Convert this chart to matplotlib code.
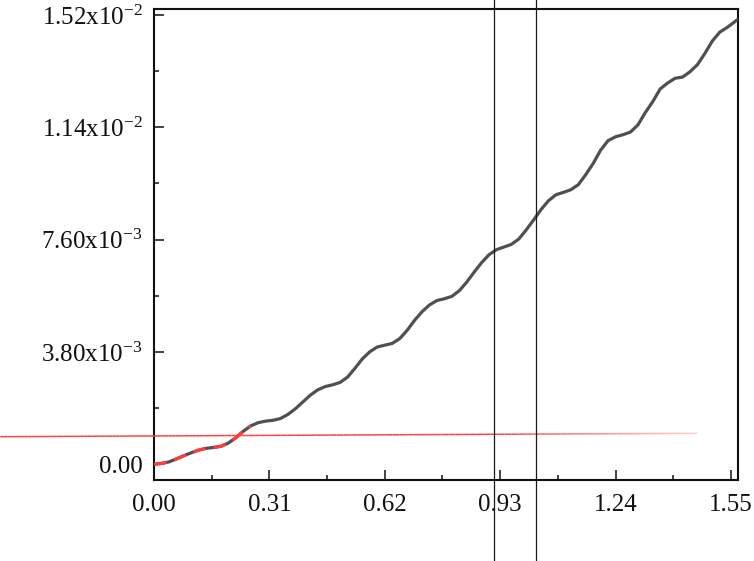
import numpy as np
import matplotlib
matplotlib.use("Agg")
import matplotlib.pyplot as plt
from matplotlib.collections import LineCollection
from matplotlib.ticker import FixedLocator, MultipleLocator

plt.rcParams['font.family'] = ['Liberation Serif', 'DejaVu Serif']
plt.rcParams['mathtext.fontset'] = 'custom'
plt.rcParams['mathtext.rm'] = 'Liberation Serif'
plt.rcParams['mathtext.it'] = 'Liberation Serif'

# curve
x_vals = [0.0, 0.02, 0.04, 0.06, 0.08, 0.10, 0.12, 0.14, 0.16, 0.18,
          0.20, 0.22, 0.24, 0.26, 0.28, 0.30, 0.32, 0.34, 0.36, 0.38,
          0.40, 0.42, 0.44, 0.46, 0.48, 0.50, 0.52, 0.54, 0.56, 0.58,
          0.60, 0.62, 0.64, 0.66, 0.68, 0.70, 0.72, 0.74, 0.76, 0.78,
          0.80, 0.82, 0.84, 0.86, 0.88, 0.90, 0.92, 0.94, 0.96, 0.98,
          1.00, 1.02, 1.04, 1.06, 1.08, 1.10, 1.12, 1.14, 1.16, 1.18,
          1.20, 1.22, 1.24, 1.26, 1.28, 1.30, 1.32, 1.34, 1.36, 1.38,
          1.40, 1.42, 1.44, 1.46, 1.48, 1.50, 1.52, 1.54, 1.56, 1.568]
y_vals = [0.0, 0.3e-4, 0.8e-4, 1.8e-4, 2.9e-4, 3.9e-4, 4.8e-4, 5.4e-4, 5.7e-4, 6.1e-4,
          7.2e-4, 9.0e-4, 1.12e-3, 1.30e-3, 1.41e-3, 1.46e-3, 1.49e-3, 1.55e-3, 1.69e-3, 1.88e-3,
          2.11e-3, 2.34e-3, 2.52e-3, 2.63e-3, 2.69e-3, 2.77e-3, 2.95e-3, 3.25e-3, 3.57e-3, 3.81e-3,
          3.97e-3, 4.03e-3, 4.09e-3, 4.25e-3, 4.53e-3, 4.87e-3, 5.16e-3, 5.39e-3, 5.54e-3, 5.60e-3,
          5.68e-3, 5.87e-3, 6.16e-3, 6.50e-3, 6.82e-3, 7.09e-3, 7.26e-3, 7.35e-3, 7.44e-3, 7.62e-3,
          7.93e-3, 8.27e-3, 8.62e-3, 8.92e-3, 9.12e-3, 9.20e-3, 9.29e-3, 9.46e-3, 9.80e-3, 1.018e-2,
          1.063e-2, 1.095e-2, 1.108e-2, 1.115e-2, 1.124e-2, 1.148e-2, 1.190e-2, 1.227e-2, 1.270e-2, 1.290e-2,
          1.306e-2, 1.310e-2, 1.328e-2, 1.352e-2, 1.390e-2, 1.432e-2, 1.462e-2, 1.478e-2, 1.497e-2, 1.505e-2]
red_until = 0.26

# red reference line and the two markers
ref_x = [-0.413, 1.459]
ref_y = [9.34e-4, 1.049e-3]
vlines_x = [0.9126, 1.0255]

x_ticks = [0.0, 0.31, 0.62, 0.93, 1.24, 1.55]
x_labels = ['0.00', '0.31', '0.62', '0.93', '1.24', '1.55']
y_ticks = [0.0, 3.8e-3, 7.6e-3, 1.14e-2, 1.52e-2]
y_labels = ['0.00', r'3.80x10$^{\mathregular{-3}}$', r'7.60x10$^{\mathregular{-3}}$',
            r'1.14x10$^{\mathregular{-2}}$', r'1.52x10$^{\mathregular{-2}}$']

fig = plt.figure(figsize=(7.54, 5.61), dpi=100)
ax = fig.add_axes([154 / 754, 81 / 561, 584 / 754, 470.7 / 561])

x = np.array(x_vals)
y = np.array(y_vals)
ax.plot(x, y, color='#505050', lw=2.3, zorder=3, solid_capstyle='round', solid_joinstyle='round')
m = x <= red_until
ax.plot(x[m], y[m], color='#ff3b3b', lw=2.3, dashes=(4, 2.5), zorder=4)

# red line fading out to the right
n = 200
rx = np.linspace(ref_x[0], ref_x[1], n)
ry = np.interp(rx, ref_x, ref_y)
pts = np.array([rx, ry]).T.reshape(-1, 1, 2)
segs = np.concatenate([pts[:-1], pts[1:]], axis=1)
alpha = np.clip(1 - (rx[:-1] - 0.9) / (ref_x[1] - 0.9) * 0.75, 0.25, 1.0)
cols = np.zeros((n - 1, 4))
cols[:, 0] = 1.0
cols[:, 1] = 0.25
cols[:, 2] = 0.25
cols[:, 3] = alpha
lc = LineCollection(segs, colors=cols, linewidths=1.1, clip_on=False, zorder=5)
ax.add_collection(lc)

for vx in vlines_x:
    ax.plot([vx, vx], [-0.175, 1.03], transform=ax.get_xaxis_transform(),
            color='#1a1a1a', lw=0.9, clip_on=False, zorder=6)

ax.set_xlim(0, 1.569)
ax.set_ylim(-5.31e-4, 0.015393)

ax.xaxis.set_major_locator(FixedLocator(x_ticks))
ax.set_xticklabels(x_labels, fontsize=18)
ax.xaxis.set_minor_locator(MultipleLocator(0.155))
ax.yaxis.set_major_locator(FixedLocator(y_ticks))
ax.set_yticklabels(y_labels, fontsize=18)
ax.yaxis.set_minor_locator(MultipleLocator(1.9e-3))

ax.tick_params(which='both', direction='in', top=False, right=False, width=1.1, colors='#111111')
ax.tick_params(which='major', length=7)
ax.tick_params(which='minor', length=3.5)
ax.tick_params(axis='y', which='major', pad=8)
ax.tick_params(axis='x', which='major', pad=10)
for s in ax.spines.values():
    s.set_linewidth(1.5)
    s.set_color('#111111')

fig.savefig('out.png', dpi=100)
